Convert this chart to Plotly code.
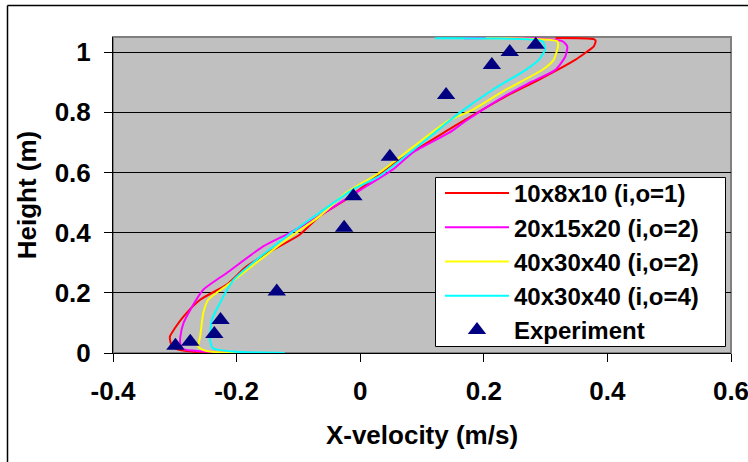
import plotly.graph_objects as go

# ---- data ----
series_names = ["10x8x10 (i,o=1)", "20x15x20 (i,o=2)", "40x30x40 (i,o=2)", "40x30x40 (i,o=4)"]
series_colors = ["#FF0000", "#FF00FF", "#FFFF00", "#00FFFF"]

red_x = [-0.235, -0.270, -0.298, -0.306, -0.308, -0.300, -0.286, -0.259, -0.216, -0.184, -0.141,
         -0.098, -0.066, -0.023, 0.053, 0.144, 0.160, 0.235, 0.289, 0.348, 0.364, 0.378, 0.381,
         0.378, 0.316]
red_y = [0.0, 0.004, 0.014, 0.030, 0.054, 0.082, 0.121, 0.177, 0.227, 0.288, 0.343,
         0.393, 0.454, 0.510, 0.627, 0.743, 0.763, 0.852, 0.908, 0.974, 0.997, 1.019, 1.037,
         1.043, 1.047]

magenta_x = [-0.170, -0.259, -0.286, -0.291, -0.291, -0.286, -0.275, -0.254, -0.216, -0.157,
             -0.114, -0.076, -0.033, 0.010, 0.053, 0.085, 0.144, 0.170, 0.225, 0.273, 0.316,
             0.332, 0.335, 0.327, 0.289, 0.168]
magenta_y = [0.0, 0.006, 0.013, 0.030, 0.054, 0.099, 0.143, 0.210, 0.266, 0.354,
             0.399, 0.443, 0.499, 0.554, 0.610, 0.666, 0.732, 0.770, 0.843, 0.897, 0.941,
             0.986, 1.019, 1.036, 1.045, 1.046]

yellow_x = [-0.179, -0.240, -0.254, -0.262, -0.259, -0.254, -0.246, -0.211, -0.119, -0.066,
            -0.023, 0.031, 0.141, 0.182, 0.235, 0.295, 0.313, 0.320, 0.319, 0.262, 0.203]
yellow_y = [0.0, 0.004, 0.010, 0.021, 0.054, 0.132, 0.177, 0.232, 0.377, 0.454,
            0.532, 0.599, 0.770, 0.808, 0.874, 0.941, 0.974, 1.019, 1.036, 1.045, 1.046]

cyan_x = [-0.122, -0.206, -0.238, -0.243, -0.240, -0.227, -0.205, -0.119, -0.066, -0.012,
          0.031, 0.144, 0.160, 0.214, 0.268, 0.289, 0.299, 0.295, 0.225, 0.121]
cyan_y = [0.0, 0.005, 0.016, 0.043, 0.110, 0.166, 0.243, 0.388, 0.466, 0.543,
          0.588, 0.771, 0.797, 0.874, 0.941, 0.974, 1.008, 1.036, 1.045, 1.046]

exp_x = [-0.299, -0.275, -0.236, -0.226, -0.135, -0.026, -0.011, 0.048, 0.139, 0.213, 0.242, 0.284]
exp_y = [0.024, 0.037, 0.063, 0.110, 0.204, 0.416, 0.521, 0.652, 0.857, 0.957, 1.000, 1.024]

x_ticks = [-0.4, -0.2, 0.0, 0.2, 0.4, 0.6]
x_tick_labels = ["-0.4", "-0.2", "0", "0.2", "0.4", "0.6"]
y_ticks = [0.0, 0.2, 0.4, 0.6, 0.8, 1.0]
y_tick_labels = ["0", "0.2", "0.4", "0.6", "0.8", "1"]

x_title = "X-velocity (m/s)"
y_title = "Height (m)"

# ---- figure ----
FONT = "Liberation Sans, Arial, sans-serif"
W, H = 748, 462
ML, MR, MT, MB = 113, 17, 37, 109
PW, PH = W - ML - MR, H - MT - MB


def px_to_paper_x(px):
    return (px - ML) / PW


def px_to_paper_y(py):
    return (H - MB - py) / PH


fig = go.Figure()
for name, color, xs, ys in zip(series_names, series_colors,
                               [red_x, magenta_x, yellow_x, cyan_x],
                               [red_y, magenta_y, yellow_y, cyan_y]):
    fig.add_trace(go.Scatter(x=xs, y=ys, mode="lines", name=name,
                             line=dict(color=color, width=2, shape="spline", smoothing=0.6)))

fig.add_trace(go.Scatter(x=exp_x, y=exp_y, mode="markers", name="Experiment",
                         marker=dict(symbol="triangle-up", size=16, color="#000080")))

fig.update_layout(
    width=W, height=H,
    margin=dict(l=ML, r=MR, t=MT, b=MB, autoexpand=False),
    paper_bgcolor="white",
    plot_bgcolor="#C0C0C0",
    font=dict(family=FONT, size=26, color="black", weight="bold"),
    showlegend=True,
    legend=dict(
        x=px_to_paper_x(440), y=px_to_paper_y(171), xanchor="left", yanchor="top",
        bgcolor="rgba(0,0,0,0)", borderwidth=0,
        font=dict(family=FONT, size=24, color="black", weight="bold"),
        tracegroupgap=0, itemwidth=64,
    ),
    xaxis=dict(
        range=[-0.4, 0.6], tickmode="array", tickvals=x_ticks, ticktext=x_tick_labels,
        showgrid=False, zeroline=False, showline=True, linecolor="black", linewidth=1,
        ticks="outside", ticklen=8, tickcolor="black", tickwidth=1,
        tickfont=dict(family=FONT, size=26, weight="bold"), ticklabelstandoff=7,
        ticklabeloverflow="allow",
        title=dict(text=x_title, font=dict(family=FONT, size=26, weight="bold"), standoff=20),
    ),
    yaxis=dict(
        range=[0, 1.05], tickmode="array", tickvals=y_ticks, ticktext=y_tick_labels,
        showgrid=True, gridcolor="black", gridwidth=1, zeroline=False,
        showline=True, linecolor="black", linewidth=1,
        ticks="outside", ticklen=8, tickcolor="black", tickwidth=1,
        tickfont=dict(family=FONT, size=26, weight="bold"), ticklabelstandoff=8,
        ticklabeloverflow="allow",
        title=dict(text=y_title, font=dict(family=FONT, size=26, weight="bold"), standoff=10),
    ),
    shapes=[
        # plot-area border (grey, Excel style)
        dict(type="rect", xref="paper", yref="paper", x0=0, y0=0, x1=1, y1=1,
             line=dict(color="#808080", width=2), layer="below"),
        # legend frame
        dict(type="rect", xref="paper", yref="paper",
             x0=px_to_paper_x(435.5), y0=px_to_paper_y(346.5),
             x1=px_to_paper_x(725.5), y1=px_to_paper_y(177.5),
             fillcolor="white", line=dict(color="black", width=1), layer="above"),
        # outer chart-area border (left and top edges)
        dict(type="line", xref="paper", yref="paper",
             x0=px_to_paper_x(7.5), y0=px_to_paper_y(462), x1=px_to_paper_x(7.5), y1=px_to_paper_y(5.5),
             line=dict(color="black", width=1.5), layer="above"),
        dict(type="line", xref="paper", yref="paper",
             x0=px_to_paper_x(7.5), y0=px_to_paper_y(5.5), x1=px_to_paper_x(748), y1=px_to_paper_y(5.5),
             line=dict(color="black", width=1.5), layer="above"),
    ],
)

fig.write_html("out.html", config={"displayModeBar": False},
               post_script="document.body.style.margin='0px';")
